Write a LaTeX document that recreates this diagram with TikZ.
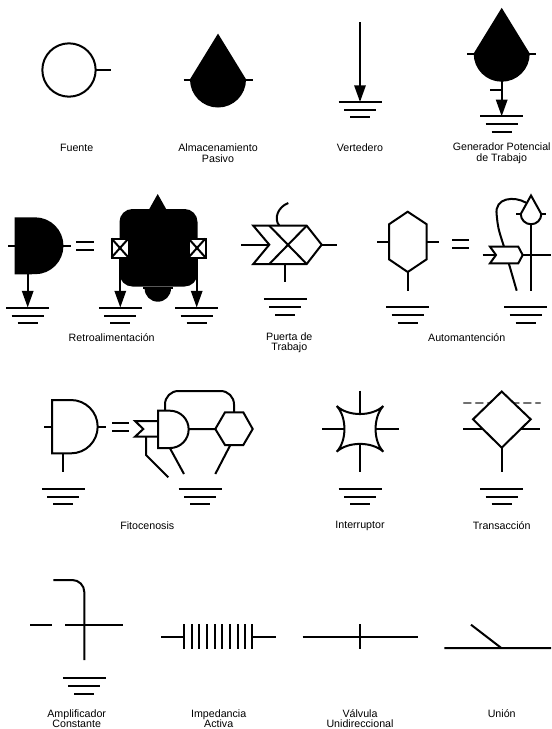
\documentclass[tikz,border=0pt]{standalone}
\usepackage{fontspec}
\setmainfont{Liberation Sans}
\usetikzlibrary{arrows.meta,positioning}
\definecolor{Ink}{HTML}{000000}
\definecolor{Dash}{HTML}{707070}
\tikzset{
  symline/.style={draw=Ink,line width=1.5pt},
  symsolid/.style={draw=Ink,fill=Ink,line width=1.5pt},
  symwhite/.style={draw=Ink,fill=white,line width=1.5pt},
  flowline/.style={-{Triangle[length=12.5pt,width=8.5pt]},draw=Ink,line width=1.5pt},
  caption/.style={align=center,font=\fontsize{8}{8}\selectfont,text=Ink,inner sep=0pt},
  groundmark/.pic={
    \draw[symline] (-21.5,0) -- (21.5,0);
    \draw[symline] (-16,7.7) -- (16,7.7);
    \draw[symline] (-10,15.3) -- (10,15.3);
  },
  dropmark/.pic={
    \draw[symsolid] (0,-44) -- (27,0) arc[start angle=0,end angle=-180,radius=20.25pt] -- cycle;
    \draw[symline] (-34.5,0) -- (34.5,0);
  }
}
\begin{document}
\begin{tikzpicture}[x=0.75pt,y=-0.75pt]
  \useasboundingbox (0,0) rectangle (551,729);

  \draw[symline] (69,70) circle[radius=20pt];
  \draw[symline] (95.7,70) -- (111,70);
  \node[caption] (fuente) at (76.7,147.7) {Fuente};

  \pic at (218,79.5) {dropmark};
  \node[caption] (almacen) at (218,153.4) {Almacenamiento\\Pasivo};

  \draw[flowline] (360,22) -- (360,102);
  \pic at (360,102) {groundmark};
  \node[caption] (vertedero) at (360,147.7) {Vertedero};

  \pic at (501.7,53.7) {dropmark};
  \draw[flowline] (501.7,80) -- (501.7,116.3);
  \draw[symline] (490,90) -- (501.7,90);
  \pic at (501.7,116.3) {groundmark};
  \node[caption] (generador) at (501.7,153.4) {Generador Potencial\\de Trabajo};

  \draw[symsolid] (15.7,218.3) -- (35,218.3) arc[start angle=90,end angle=-90,radius=20.6pt] -- (15.7,273.3) -- cycle;
  \draw[symline] (8,245.7) -- (15.7,245.7) (62.5,245.7) -- (71,245.7);
  \draw[flowline] (27.7,273.3) -- (27.7,307.5);
  \pic at (27.7,308) {groundmark};
  \draw[symline] (76,241.7) -- (94,241.7) (76,250.3) -- (94,250.3);

  \draw[symsolid,rounded corners=9pt] (120.5,210) rectangle (196.5,285.5);
  \fill[Ink] (157.7,194) -- (166.7,210) -- (148.7,210) -- cycle;
  \fill[Ink] (171,288.5) arc[start angle=0,end angle=-180,radius=9.9pt] -- cycle;
  \draw[symline] (143.3,288.3) -- (173.3,288.3);
  \draw[flowline] (120.3,257) -- (120.3,307.5);
  \draw[flowline] (196.7,257) -- (196.7,307.5);
  \draw[symwhite] (111.5,238.5) rectangle (128.5,257.5);
  \draw[symline] (111.5,238.5) -- (128.5,257.5) (111.5,257.5) -- (128.5,238.5);
  \draw[symwhite] (188.5,238.5) rectangle (205.5,257.5);
  \draw[symline] (188.5,238.5) -- (205.5,257.5) (188.5,257.5) -- (205.5,238.5);
  \pic at (120.3,308) {groundmark};
  \pic at (196.7,308) {groundmark};
  \node[caption] (retro) at (111.7,337.4) {Retroalimentación};

  \draw[symline] (279.3,225.7) .. controls (273.3,218.3) and (278.3,206.7) .. (288.3,203);
  \draw[symline] (253.3,225.7) -- (306.7,225.7) -- (321.7,244.7) -- (306.7,264) -- (253.3,264) -- (269.3,244.7) -- cycle;
  \draw[symline] (269.3,225.7) -- (306.7,264) (306.7,225.7) -- (269.3,264);
  \draw[symline] (241,244.7) -- (269.3,244.7) (321.7,244.7) -- (337.3,244.7);
  \draw[symline] (285.3,264) -- (285.3,282.3);
  \pic at (285.3,299.3) {groundmark};
  \node[caption] (puerta) at (289.3,342.6) {Puerta de\\Trabajo};

  \draw[symline] (407.7,211.7) -- (426.7,224.3) -- (426.7,259.3) -- (407.7,272) -- (389,259.3) -- (389,224.3) -- cycle;
  \draw[symline] (377,241.7) -- (389,241.7) (426.7,241.7) -- (438.7,241.7) (407.7,272) -- (407.7,290.7);
  \pic at (407.7,307.3) {groundmark};
  \draw[symline] (452.3,240) -- (469,240) (452.3,247.7) -- (469,247.7);

  \draw[symline] (526,202.7) .. controls (515,196) and (494,197) .. (496.7,215) .. controls (498,228) .. (504,246.7) -- (516.7,290.7);
  \draw[symline] (531,223) -- (531,290.7) (522.7,255) -- (551,255);
  \draw[symwhite] (490,246.7) -- (518.3,246.7) -- (522.7,255) -- (518.3,263.3) -- (490,263.3) -- (496,255) -- cycle;
  \draw[symline] (482.7,255) -- (496,255);
  \draw[symwhite] (531,195.5) -- (541.3,214) arc[start angle=0,end angle=-180,radius=7.7pt] -- cycle;
  \draw[symline] (516,214) -- (520.7,214) (541.3,214) -- (546,214);
  \pic at (525.7,307.3) {groundmark};
  \node[caption] (automant) at (466.7,337.4) {Automantención};

  \draw[symline] (52,400) -- (71,400) arc[start angle=90,end angle=-90,radius=20pt] -- (52,453.3) -- cycle;
  \draw[symline] (44,427) -- (52,427) (97.7,427) -- (106,427) (63.3,453.3) -- (63.3,471.7);
  \pic at (63.3,489) {groundmark};
  \draw[symline] (112.3,423.3) -- (129,423.3) (112.3,431.3) -- (129,431.3);

  \draw[symline,rounded corners=10pt] (165,410.7) -- (165,391) -- (234,391) -- (234,412.3);
  \draw[symline] (158,410.7) -- (170,410.7) arc[start angle=90,end angle=-90,radius=14pt] -- (158,448) -- cycle;
  \draw[symline] (158,421) -- (135,421) -- (143.3,429) -- (135,436.7) -- (158,436.7);
  \draw[symline] (146,436.7) -- (146,455) -- (168.3,477.3);
  \draw[symline] (170,448.3) -- (184,474);
  \draw[symline] (215.3,429) -- (225,412.3) -- (243.3,412.3) -- (252.7,429) -- (243.3,445) -- (225,445) -- cycle;
  \draw[symline] (188.7,429) -- (215.3,429) (230,445.7) -- (215.3,474);
  \pic at (200,489) {groundmark};
  \node[caption] (fito) at (147.3,525.7) {Fitocenosis};

  \draw[symline] (336.7,406) .. controls (348,416.7) and (372,416.7) .. (383.3,406) .. controls (373,417) and (373,441) .. (383.3,451.7) .. controls (372,441.3) and (348,441.3) .. (336.7,451.7) .. controls (347,441) and (347,417) .. cycle;
  \draw[symline] (360,390.7) -- (360,414) (360,444) -- (360,471.7) (322,429) -- (345,429) (375,429) -- (398.7,429);
  \pic at (360,489) {groundmark};
  \node[caption] (interruptor) at (360,525.7) {Interruptor};

  \draw[draw=Dash,line width=1.8pt,line cap=round,dash pattern=on 5pt off 4pt] (464,402.7) -- (540,402.7);
  \draw[symwhite] (501.7,391.5) -- (530.7,419.3) -- (501.7,447.7) -- (473,419.3) -- cycle;
  \draw[symline] (463.3,428.7) -- (482.4,428.7) (521,428.7) -- (540,428.7) (501.7,447.7) -- (501.7,471.7);
  \pic at (501.7,489) {groundmark};
  \node[caption] (transaccion) at (501.7,525.7) {Transacción};

  \draw[symline,rounded corners=9pt] (53.3,580) -- (84.3,580) -- (84.3,660);
  \draw[symline] (30.3,625) -- (52,625) (65,625) -- (122.7,625);
  \pic at (84.3,678.3) {groundmark};
  \node[caption] (amplificador) at (76.7,718.6) {Amplificador\\Constante};

  \draw[symline] (161,636.7) -- (184,636.7) (252.3,636.7) -- (276,636.7);
  \foreach \xbar in {184,191.7,199.3,207,214.7,222.3,230,237.7,245,252.3}
    \draw[symline] (\xbar,624.3) -- (\xbar,649);
  \node[caption] (impedancia) at (218.7,718.6) {Impedancia\\Activa};

  \draw[symline] (302.7,636.7) -- (417.7,636.7) (360,624.3) -- (360,649);
  \node[caption] (valvula) at (360,718.6) {Válvula\\Unidireccional};

  \draw[symline] (444.3,648) -- (551,648) (471,624.7) -- (501.3,648);
  \node[caption] (union) at (501.7,714) {Unión};
\end{tikzpicture}
\end{document}
